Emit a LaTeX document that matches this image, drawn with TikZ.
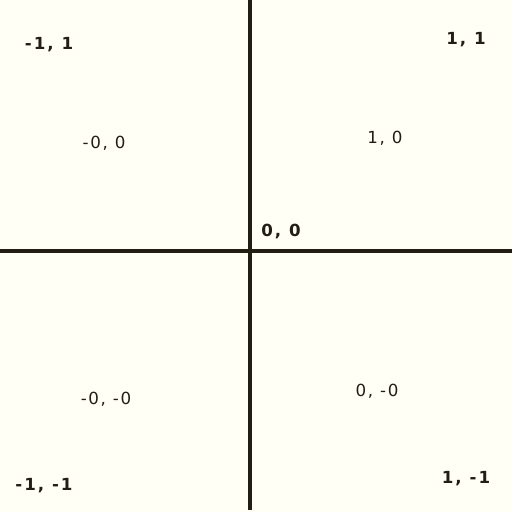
\documentclass[tikz,border=0pt]{standalone}
\usepackage{fontspec}
\setmainfont{DejaVu Sans}
\newfontfamily\lblfont[LetterSpace=10]{DejaVu Sans}
\newfontfamily\lblbold[LetterSpace=12]{DejaVu Sans Bold}
\definecolor{bg}{HTML}{FFFFF5}
\definecolor{ink}{HTML}{221E14}
\begin{document}
\begin{tikzpicture}[x=0.75pt,y=-0.75pt,
  axis/.style={draw=ink,line width=3pt},
  lbl/.style={text=ink,inner sep=0pt,font=\lblfont\fontsize{12.5}{14}\selectfont},
  blbl/.style={text=ink,inner sep=0pt,font=\lblbold\fontsize{12.5}{14}\selectfont}]
\fill[bg] (0,0) rectangle (512,512);
\useasboundingbox (0,0) rectangle (512,512);
\coordinate (vt) at (250,0);
\coordinate (vb) at (250,510);
\coordinate (hl) at (0,251);
\coordinate (hr) at (512,251);
\draw[axis] (vt) -- (vb);
\draw[axis] (hl) -- (hr);
\node[blbl] (nw) at (49,45) {-1, 1};
\node[blbl] (ne) at (466,40) {1, 1};
\node[lbl] (q2) at (104,143) {-0, 0};
\node[lbl] (q1) at (385,138) {1, 0};
\node[blbl] (o) at (281,231) {0, 0};
\node[lbl] (q3) at (106,399) {-0, -0};
\node[lbl] (q4) at (377,391) {0, -0};
\node[blbl] (sw) at (44,486) {-1, -1};
\node[blbl] (se) at (466,479) {1, -1};
\end{tikzpicture}
\end{document}
